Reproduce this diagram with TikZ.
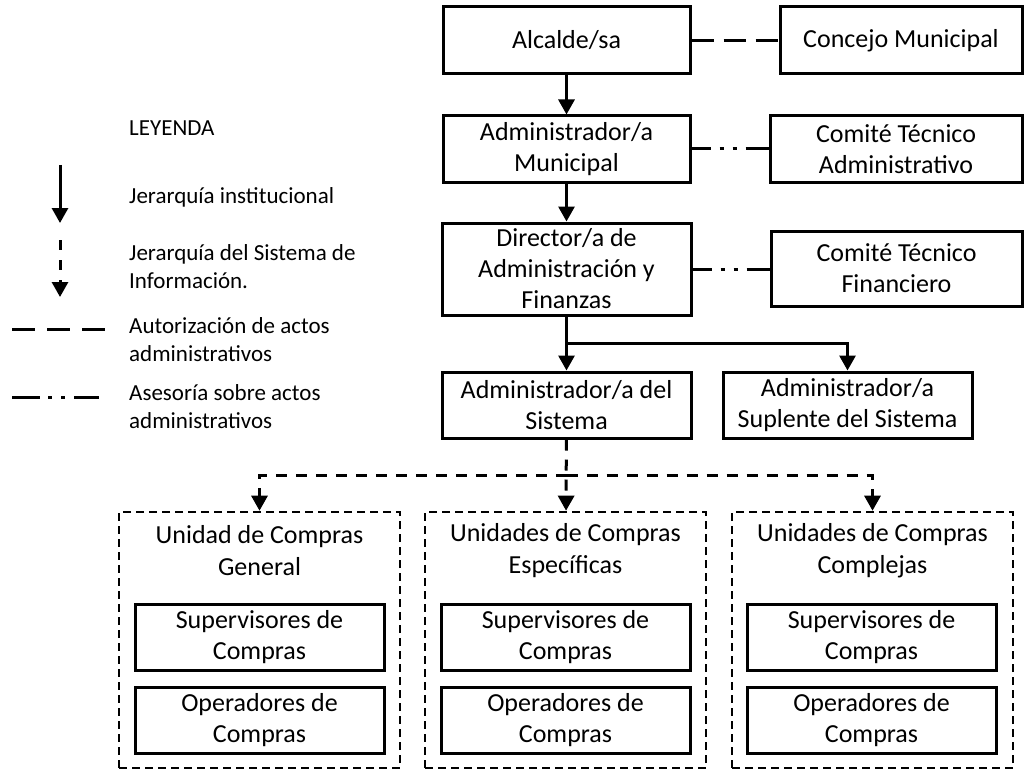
\documentclass[tikz,border=0pt]{standalone}
\usepackage{fontspec}
\setmainfont{Carlito}
\usetikzlibrary{arrows.meta, positioning}

\begin{document}
\begin{tikzpicture}[x=1pt, y=-1pt,
        caja/.style={rectangle, draw, line width=3pt, minimum width=249pt, minimum height=66pt, inner sep=0pt, align=center, font=\fontsize{26}{31}\selectfont},
        unidad/.style={rectangle, draw, line width=2.6pt, dash pattern=on 8pt off 5pt, minimum width=281pt, minimum height=256pt, inner sep=0pt},
        titulo/.style={align=center, inner sep=0pt, font=\fontsize{26}{32}\selectfont},
        leyenda/.style={anchor=west, align=left, inner sep=0pt, font=\fontsize{23}{28}\selectfont},
        flecha/.style={line width=3pt, -{Triangle[length=15pt, width=16pt]}},
        sistema/.style={line width=3pt, dash pattern=on 11pt off 9pt, -{Triangle[length=15pt, width=16pt]}},
        autoriza/.style={line width=3pt, dash pattern=on 22pt off 10pt},
        asesoria/.style={line width=3pt, dash pattern=on 19pt off 9pt on 4pt off 9pt on 4pt off 9pt on 40pt off 1pt}
    ]
        \useasboundingbox (0,0) rectangle (1024,770);

        % Jerarquia institucional
        \node[caja, minimum width=247pt, minimum height=67pt] (alcalde) at (566.5, 40.5) {Alcalde/sa};
        \node[caja, minimum width=242pt, minimum height=67pt] (concejo) at (901, 40.5) {Concejo Municipal};
        \node[caja, minimum width=247pt] (admmun) at (566.5, 149) {Administrador/a\\Municipal};
        \node[caja, minimum width=252pt] (ctadm) at (896, 149) {Comité Técnico\\Administrativo};
        \node[caja, minimum height=92pt] (director) at (566.5, 269) {Director/a de\\Administración y\\Finanzas};
        \node[caja, minimum width=251pt, minimum height=75pt] (ctfin) at (896.5, 268.5) {Comité Técnico\\Financiero};
        \node[caja] (admsis) at (566.5, 405) {Administrador/a del\\Sistema};
        \node[caja] (suplente) at (847.5, 405) {Administrador/a\\Suplente del Sistema};

        % Unidades de compra
        \node[unidad] (unidad1) at (259.5, 640) {};
        \node[unidad] (unidad2) at (565.5, 640) {};
        \node[unidad] (unidad3) at (872.5, 640) {};
        \node[titulo] (tit1) at (259.5, 551) {Unidad de Compras\\General};
        \node[titulo] (tit2) at (565.5, 551) {Unidades de Compras\\Específicas};
        \node[titulo] (tit3) at (872.5, 551) {Unidades de Compras\\Complejas};
        \node[caja] (sup1) at (259.5, 637) {Supervisores de\\Compras};
        \node[caja] (ope1) at (259.5, 720) {Operadores de\\Compras};
        \node[caja] (sup2) at (565.5, 637) {Supervisores de\\Compras};
        \node[caja] (ope2) at (565.5, 720) {Operadores de\\Compras};
        \node[caja] (sup3) at (871.5, 637) {Supervisores de\\Compras};
        \node[caja] (ope3) at (871.5, 720) {Operadores de\\Compras};

        % Leyenda
        \node[leyenda] (leyenda) at (129, 128) {LEYENDA};
        \node[leyenda] (ley1) at (129, 197) {Jerarquía institucional};
        \node[leyenda] (ley2) at (129, 267) {Jerarquía del Sistema de\\Información.};
        \node[leyenda] (ley3) at (129, 340) {Autorización de actos\\administrativos};
        \node[leyenda] (ley4) at (129, 407) {Asesoría sobre actos\\administrativos};
        \coordinate (l1a) at (60, 165);
        \coordinate (l1b) at (60, 223);
        \coordinate (l2a) at (60, 240);
        \coordinate (l2b) at (60, 297);
        \coordinate (l3a) at (12, 329);
        \coordinate (l3b) at (109, 329);
        \coordinate (l4a) at (12, 397);
        \coordinate (l4b) at (99, 397);

        % ================= FLECHAS =================
        \coordinate (rama) at (566.5, 343);
        \coordinate (bus) at (566.5, 475);

        \draw[flecha] (alcalde) -- (admmun);
        \draw[flecha] (admmun) -- (director);
        \draw[flecha] (director) -- (admsis);
        \draw[flecha] (rama) -| (suplente.north);

        \draw[autoriza] (alcalde) -- (concejo);
        \draw[asesoria] (admmun) -- (ctadm);
        \draw[asesoria] (director.east) -- (director.east -| ctfin.west);

        % Sistema de informacion
        \draw[sistema] (admsis) -- (unidad2);
        \draw[sistema] (bus) -| (unidad1.north);
        \draw[sistema] (bus) -| (unidad3.north);

        % Muestras de la leyenda
        \draw[flecha] (l1a) -- (l1b);
        \draw[sistema, dash pattern=on 10pt off 10pt] (l2a) -- (l2b);
        \draw[autoriza, dash pattern=on 23pt off 12pt] (l3a) -- (l3b);
        \draw[asesoria, dash pattern=on 28pt off 8pt on 4pt off 9pt on 4pt off 9pt on 40pt off 1pt] (l4a) -- (l4b);

    \end{tikzpicture}
\end{document}
